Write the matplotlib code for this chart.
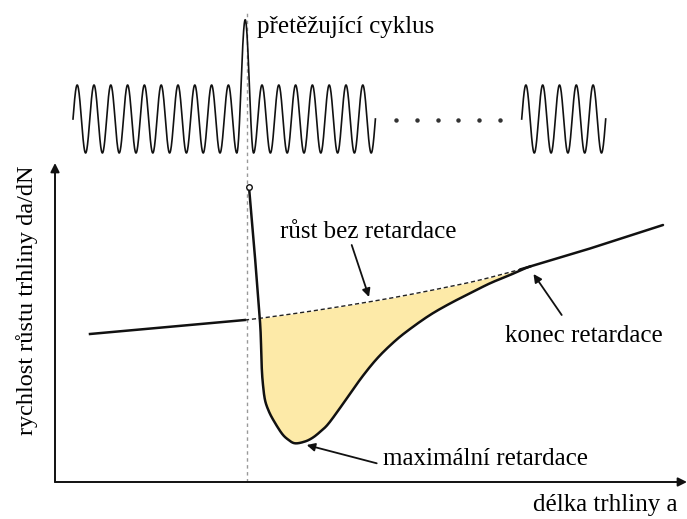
import numpy as np
import matplotlib
matplotlib.use("Agg")
import matplotlib.pyplot as plt

plt.rcParams['font.family'] = ['Liberation Serif', 'DejaVu Serif']

# Crack growth rate without retardation (baseline), before and after the overload
base_left_x = [90, 245]
base_left_y = [185, 199]
base_dash_x = [245, 260, 310, 370, 410, 450, 480, 520, 530]
base_dash_y = [199, 200.7, 207.7, 217.3, 224.5, 232.5, 239, 249.5, 252.5]
base_right_x = [520, 590, 663]
base_right_y = [249.5, 270.5, 294]

# Retarded crack growth rate after the overload cycle
retard_x = [249, 254, 258.3, 260.5, 261.7, 263, 265, 268.5, 273.3, 281.7, 288, 295,
            305, 313, 321, 329, 345, 362, 378, 395, 410, 430, 450, 470, 490, 510, 530]
retard_y = [332, 274, 219, 189, 152.3, 134, 119, 108.5, 99, 85.7, 79.5, 75.7,
            77.5, 81.5, 88, 96, 118, 142, 161.5, 178, 190, 204, 215.5, 225.7, 235.7, 244, 252.5]
retard_end = (560, 261.5)   # direction the retarded curve leaves along

# Loading sequence: max load of each cycle (1 = nominal, overload cycle larger)
block1_peaks = [1] * 10 + [1.96] + [1] * 8
block2_peaks = [1] * 6
overload_x = 247

# plot geometry (figure is 687 x 519 units)
axis_origin = (55, 37)
period = 16.8
trough = 366
load_scale = 68


def load_signal(x_start, n_cycles, peaks):
    # trough-to-trough cycles, starting at the first upward mean crossing
    phase = np.linspace(0.25, n_cycles + 0.25, 80 * n_cycles)
    k = np.minimum(np.floor(phase).astype(int), len(peaks) - 1)
    amp = np.asarray(peaks, dtype=float)[k]
    x = x_start + (phase - 0.25) * period
    y = trough + load_scale * amp * (1 - np.cos(2 * np.pi * phase)) / 2
    return x, y


def smooth(xs, ys, n=16, end=None):
    # Catmull-Rom curve through the given points
    p = np.column_stack([xs, ys]).astype(float)
    tail = np.array(end, dtype=float) if end is not None else 2 * p[-1] - p[-2]
    p = np.vstack([2 * p[0] - p[1], p, tail])
    t = np.linspace(0, 1, n, endpoint=False)[:, None]
    out = []
    for i in range(1, len(p) - 2):
        p0, p1, p2, p3 = p[i - 1], p[i], p[i + 1], p[i + 2]
        out.append(0.5 * (2 * p1 + (p2 - p0) * t + (2 * p0 - 5 * p1 + 4 * p2 - p3) * t ** 2
                          + (3 * p1 - p0 - 3 * p2 + p3) * t ** 3))
    out.append(p[-2][None, :])
    out = np.vstack(out)
    return out[:, 0], out[:, 1]


fig = plt.figure(figsize=(6.87, 5.19), dpi=100)
ax = fig.add_axes([0, 0, 1, 1])
ax.set_xlim(0, 687)
ax.set_ylim(0, 519)
ax.axis('off')

# load signal on top
x1, y1 = load_signal(73, 18, block1_peaks)
x2, y2 = load_signal(521.7, 5, block2_peaks)
ax.plot(x1, y1, color='#111111', lw=1.2)
ax.plot(x2, y2, color='#111111', lw=1.2)
dots_x = np.linspace(396, 500, 6)
ax.plot(dots_x, np.full(6, 399), ls='none', marker='o', ms=2.2, color='#333333')

# overload marker line
ax.plot([overload_x, overload_x], [axis_origin[1], 507], color='#999999', lw=1.0,
        dashes=(2.5, 2.5), zorder=1)

# axes with arrows
arrow = dict(arrowstyle='-|>', color='#111111', lw=1.4, mutation_scale=13, shrinkA=0, shrinkB=0)
ax.annotate('', xy=(55, 356), xytext=axis_origin, arrowprops=arrow)
ax.annotate('', xy=(687, 37), xytext=axis_origin, arrowprops=arrow)

# smoothed curves
bx, by = smooth(base_dash_x, base_dash_y)
rx, ry = smooth(retard_x, retard_y, end=retard_end)

# retardation area
xg = np.linspace(245, 530, 900)
yb = np.interp(xg, bx, by)
yr = np.interp(xg, rx, ry)
ax.fill_between(xg, yr, yb, where=yr < yb, color='#fdeaa8', lw=0, zorder=2)

ax.plot(base_left_x, base_left_y, color='#111111', lw=1.8, zorder=3)
ax.plot(bx, by, color='#222222', lw=1.0, dashes=(3, 2), zorder=3)
ax.plot(base_right_x, base_right_y, color='#111111', lw=1.8, zorder=3,
        solid_capstyle='round')
ax.plot(rx, ry, color='#111111', lw=1.8, zorder=4, solid_joinstyle='round')
ax.plot(retard_x[0], retard_y[0], marker='o', ms=4, mfc='white', mec='#111111', mew=1.0, zorder=5)

# labels
fs = 18
ax.text(257, 486, 'přetěžující cyklus', fontsize=fs, va='baseline', ha='left')
ax.text(280, 281, 'růst bez retardace', fontsize=fs, va='baseline', ha='left')
ax.text(505, 177, 'konec retardace', fontsize=fs, va='baseline', ha='left')
ax.text(383, 54, 'maximální retardace', fontsize=fs, va='baseline', ha='left')
ax.text(533, 8, 'délka trhliny a', fontsize=fs, va='baseline', ha='left')
ax.text(27, 219, 'rychlost růstu trhliny da/dN', fontsize=17.5, rotation=90,
        va='center', ha='center')

pointer = dict(arrowstyle='-|>', color='#111111', lw=1.3, mutation_scale=12, shrinkA=0, shrinkB=0)
ax.annotate('', xy=(369, 222), xytext=(351.7, 274), arrowprops=pointer)
ax.annotate('', xy=(533.5, 245), xytext=(561.7, 204), arrowprops=pointer)
ax.annotate('', xy=(306.7, 74), xytext=(376.7, 55.7), arrowprops=pointer)

fig.savefig('out.png', dpi=100)
